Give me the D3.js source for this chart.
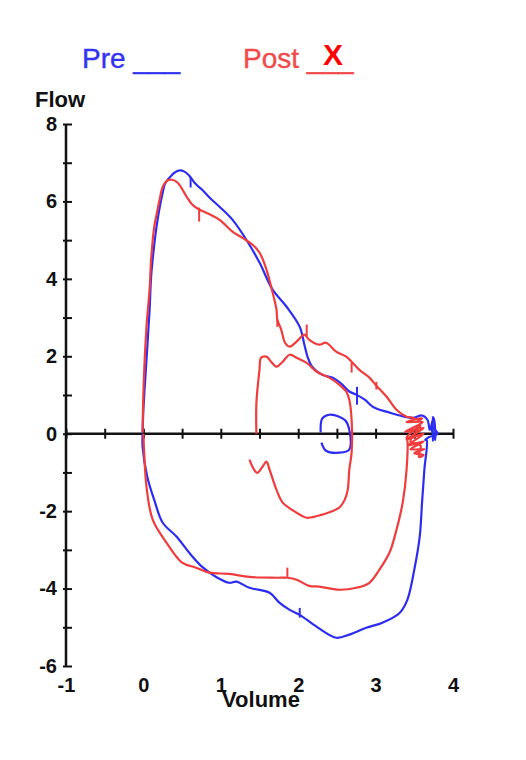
<!DOCTYPE html>
<html>
<head>
<meta charset="utf-8">
<script src="https://cdn.jsdelivr.net/npm/d3@7"></script>
<style>
  body { margin: 0; background: #fff; }
  text { font-family: "Liberation Sans", Arial, sans-serif; }
</style>
</head>
<body>
<div id="chart"></div>
<script>
var width = 526;
var height = 760;

// flow-volume loops, [volume, flow]
var preLoop = [
  [-0.01, 0.03], [0, 0.62], [0.04, 1.91], [0.08, 3.20], [0.10, 4.06], [0.14, 4.88], [0.17, 5.35],
  [0.21, 5.84], [0.25, 6.23], [0.28, 6.46], [0.34, 6.62], [0.40, 6.74], [0.47, 6.80], [0.53, 6.77],
  [0.59, 6.67], [0.67, 6.46], [0.76, 6.30], [0.88, 6.05], [0.98, 5.87], [1.15, 5.53], [1.33, 5.01],
  [1.50, 4.42], [1.67, 3.72], [1.85, 3.28], [2.02, 2.76], [2.08, 2.30], [2.12, 1.99], [2.18, 1.73],
  [2.31, 1.52], [2.44, 1.45], [2.57, 1.27], [2.66, 1.09], [2.75, 1.01], [2.86, 0.88], [2.96, 0.70],
  [3.05, 0.62], [3.14, 0.57], [3.31, 0.47], [3.48, 0.41], [3.60, 0.47], [3.67, 0.36],
  [3.70, 0.10], [3.75, 0.41], [3.77, -0.16], [3.72, 0.18], [3.80, 0], [3.70, -0.08], [3.64, -0.16],
  [3.66, -0.16], [3.63, -0.93], [3.60, -1.78], [3.57, -2.66], [3.50, -3.51], [3.41, -4.29],
  [3.31, -4.63], [3.09, -4.88], [2.88, -5.01], [2.66, -5.19], [2.49, -5.27], [2.24, -4.99],
  [2.02, -4.68], [1.89, -4.55], [1.76, -4.37], [1.63, -4.11], [1.37, -3.98], [1.20, -3.82],
  [1.11, -3.85], [0.94, -3.70], [0.76, -3.44], [0.59, -3.07], [0.43, -2.66], [0.25, -2.30],
  [0.14, -1.71], [0.05, -1.11], [-0.01, -0.34], [-0.01, 0]
];
var preTidal = [
  [2.30, -0.23], [2.36, -0.44], [2.53, -0.49], [2.66, -0.41], [2.66, 0.10], [2.61, 0.34],
  [2.53, 0.44], [2.40, 0.49], [2.31, 0.39], [2.29, 0.03]
];
var preMarks = [[0.61, 6.62, 6.36], [2.76, 1.21, 0.75], [2.02, -4.50, -4.75], [3.74, 0.45, -0.2]];

var postLoop = [
  [-0.01, 0.03], [0, 1.06], [0.04, 2.76], [0.08, 3.72], [0.10, 4.50], [0.14, 5.35], [0.17, 5.66],
  [0.21, 6.05], [0.25, 6.38], [0.31, 6.54], [0.37, 6.56], [0.44, 6.49], [0.56, 6.12], [0.63, 5.92],
  [0.72, 5.79], [0.81, 5.71], [0.98, 5.53], [1.15, 5.22], [1.28, 5.06], [1.41, 4.88], [1.50, 4.68],
  [1.59, 4.24], [1.67, 3.64], [1.72, 3.20], [1.73, 2.95], [1.78, 2.69], [1.83, 2.35], [1.89, 2.25],
  [1.98, 2.38], [2.08, 2.56], [2.14, 2.43], [2.27, 2.30], [2.36, 2.35], [2.49, 2.12], [2.62, 1.99],
  [2.79, 1.65], [2.92, 1.45], [3.01, 1.24], [3.14, 0.96], [3.27, 0.62], [3.40, 0.44], [3.48, 0.41],
  [3.57, 0.35], [3.60, 0.40], [3.40, 0.30], [3.61, 0.30], [3.38, 0.05], [3.62, 0.15], [3.40, -0.15],
  [3.62, 0], [3.42, -0.30], [3.62, -0.20], [3.45, -0.40], [3.63, -0.40], [3.50, -0.50],
  [3.62, -0.55], [3.56, -0.60], [3.58, -0.30], [3.45, -0.20], [3.58, 0.20], [3.40, -0.10],
  [3.41, -0.16], [3.40, -0.93], [3.35, -1.78], [3.27, -2.48], [3.18, -3.07], [3.05, -3.51],
  [2.92, -3.85], [2.75, -3.98], [2.53, -4.03], [2.27, -3.95], [2.14, -3.93], [1.98, -3.77],
  [1.86, -3.72], [1.72, -3.72], [1.37, -3.70], [1.11, -3.62], [0.85, -3.59], [0.68, -3.46],
  [0.50, -3.33], [0.30, -2.82], [0.12, -2.22], [0.04, -1.37], [0.01, -0.49], [0, 0]
];
var postTidal = [
  [1.46, 0], [1.46, 0.80], [1.50, 1.65], [1.52, 1.96], [1.59, 1.99], [1.65, 1.86], [1.72, 1.73],
  [1.80, 1.86], [1.89, 2.04], [1.98, 1.96], [2.11, 1.83], [2.24, 1.60], [2.40, 1.45], [2.53, 1.27],
  [2.62, 1.09], [2.66, 0.88], [2.69, 0.36], [2.69, -0.49], [2.66, -0.93], [2.64, -1.45],
  [2.60, -1.71], [2.53, -1.91], [2.31, -2.09], [2.11, -2.17], [1.98, -2.04], [1.80, -1.78],
  [1.72, -1.45], [1.63, -0.93], [1.59, -0.72], [1.54, -0.85], [1.47, -1.01], [1.43, -0.93],
  [1.37, -0.67]
];
var postMarks = [[0.72, 5.84, 5.48], [1.73, 2.95, 2.76], [2.11, 2.82, 2.51], [2.69, 1.83, 1.58],
  [3.01, 1.34, 1.14], [1.86, -3.46, -3.72]];

var xTicks = [-1, -0.5, 0, 0.5, 1, 1.5, 2, 2.5, 3, 3.5, 4];
var xLabels = [-1, 0, 1, 2, 3, 4];
var yTicks = [-6, -5, -4, -3, -2, -1, 0, 1, 2, 3, 4, 5, 6, 7, 8];

var blue = '#2d2df2';
var red = '#f03c3c';

var svg = d3.select('#chart')
    .append('svg')
    .attr('width', width)
    .attr('height', height);

var x = d3.scaleLinear().domain([-1, 4]).range([66, 453]);
var y = d3.scaleLinear().domain([-6, 8]).range([666, 124]);

// y axis, ticks crossing the line
var yAxis = svg.append('g')
    .attr('transform', 'translate(' + x(-1) + ',0)')
    .call(d3.axisLeft(y).tickValues(yTicks)
      .tickFormat(function(d) { return d % 2 === 0 ? String(d) : ''; }));
yAxis.select('.domain').remove();
yAxis.selectAll('.tick line')
    .attr('x1', -3).attr('x2', 6)
    .attr('stroke', '#111').attr('stroke-width', 2);
yAxis.selectAll('.tick text')
    .attr('x', -9)
    .attr('fill', '#111')
    .style('font-size', '20px')
    .style('font-weight', 'bold')
    .style('font-family', '"Liberation Sans", Arial, sans-serif');
yAxis.append('line')
    .attr('y1', y(-6)).attr('y2', y(8))
    .attr('stroke', '#111').attr('stroke-width', 2.5);

// x axis at flow 0
var xAxis = svg.append('g')
    .attr('transform', 'translate(0,' + y(0) + ')')
    .call(d3.axisBottom(x).tickValues(xTicks).tickFormat(''));
xAxis.select('.domain').remove();
xAxis.selectAll('.tick line')
    .attr('y1', -5).attr('y2', 5)
    .attr('stroke', '#111').attr('stroke-width', 2);
xAxis.append('line')
    .attr('x1', x(-1)).attr('x2', x(4))
    .attr('stroke', '#111').attr('stroke-width', 2.5);

// x labels under the plot
var xLab = svg.append('g')
    .attr('transform', 'translate(0,' + y(-6) + ')')
    .call(d3.axisBottom(x).tickValues(xLabels).tickSize(0).tickPadding(12)
      .tickFormat(function(d) { return String(d); }));
xLab.select('.domain').remove();
xLab.selectAll('.tick text')
    .attr('fill', '#111')
    .style('font-size', '20px')
    .style('font-weight', 'bold')
    .style('font-family', '"Liberation Sans", Arial, sans-serif');

var line = d3.line()
    .x(function(d) { return x(d[0]); })
    .y(function(d) { return y(d[1]); })
    .curve(d3.curveCatmullRom.alpha(0.5));

function drawSeries(loops, marks, color) {
  svg.selectAll(null)
      .data(loops)
      .enter()
      .append('path')
      .attr('d', line)
      .attr('fill', 'none')
      .attr('stroke', color)
      .attr('stroke-width', 2.2)
      .attr('stroke-linejoin', 'round');
  svg.selectAll(null)
      .data(marks)
      .enter()
      .append('line')
      .attr('x1', function(d) { return x(d[0]); })
      .attr('x2', function(d) { return x(d[0]); })
      .attr('y1', function(d) { return y(d[1]); })
      .attr('y2', function(d) { return y(d[2]); })
      .attr('stroke', color)
      .attr('stroke-width', 2);
}

drawSeries([preLoop, preTidal], preMarks, blue);
drawSeries([postLoop, postTidal], postMarks, red);

// titles
svg.append('text')
    .attr('x', 35).attr('y', 107)
    .style('font-size', '22px').style('font-weight', 'bold')
    .attr('fill', '#111')
    .text('Flow');
svg.append('text')
    .attr('x', 261).attr('y', 707)
    .attr('text-anchor', 'middle')
    .style('font-size', '22px').style('font-weight', 'bold')
    .attr('fill', '#111')
    .text('Volume');

// legend
svg.append('text')
    .attr('x', 82).attr('y', 68)
    .style('font-size', '28px')
    .attr('fill', '#3333f0')
    .attr('stroke', '#3333f0').attr('stroke-width', 0.4)
    .text('Pre ___');
svg.append('text')
    .attr('x', 243).attr('y', 68)
    .style('font-size', '28px')
    .attr('fill', '#f04a4a')
    .attr('stroke', '#f04a4a').attr('stroke-width', 0.4)
    .text('Post ___');
svg.append('text')
    .attr('x', 333).attr('y', 65)
    .attr('text-anchor', 'middle')
    .style('font-size', '30px').style('font-weight', 'bold')
    .attr('fill', '#ff0000')
    .text('X');
</script>
</body>
</html>
